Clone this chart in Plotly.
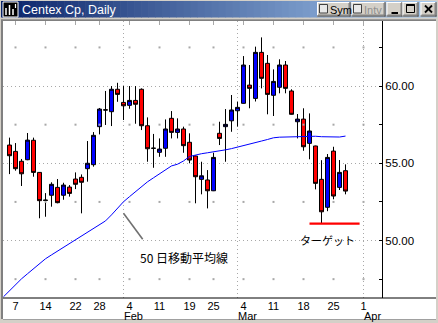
import plotly.graph_objects as go

# ---------------- data ----------------
dates = [
    "2002-01-04",
    "2002-01-07", "2002-01-08", "2002-01-09", "2002-01-10", "2002-01-11",
    "2002-01-14", "2002-01-15", "2002-01-16", "2002-01-17", "2002-01-18",
    "2002-01-22", "2002-01-23", "2002-01-24", "2002-01-25",
    "2002-01-28", "2002-01-29", "2002-01-30", "2002-01-31", "2002-02-01",
    "2002-02-04", "2002-02-05", "2002-02-06", "2002-02-07", "2002-02-08",
    "2002-02-11", "2002-02-12", "2002-02-13", "2002-02-14", "2002-02-15",
    "2002-02-19", "2002-02-20", "2002-02-21", "2002-02-22",
    "2002-02-25", "2002-02-26", "2002-02-27", "2002-02-28", "2002-03-01",
    "2002-03-04", "2002-03-05", "2002-03-06", "2002-03-07", "2002-03-08",
    "2002-03-11", "2002-03-12", "2002-03-13", "2002-03-14", "2002-03-15",
    "2002-03-18", "2002-03-19", "2002-03-20", "2002-03-21", "2002-03-22",
    "2002-03-25", "2002-03-26", "2002-03-27",
]

opens = [56.18, 55.77, 55.13, 55.23, 56.49, 54.41,
         52.62, 52.93, 53.44, 52.93, 53.46,
         53.98, 54.09, 54.65, 54.91,
         57.37, 58.46, 58.34, 59.79, 58.94,
         58.75, 59.07, 59.79, 57.43, 55.98,
         55.71, 55.97, 57.91, 57.00, 57.22,
         56.36, 55.47, 53.96, 53.92,
         53.22, 56.94, 57.37, 57.75, 58.40,
         58.88, 60.06, 59.20, 62.18, 61.47,
         59.40, 59.92, 61.36, 59.68, 57.69,
         57.86, 56.29, 56.12, 53.96, 52.15,
         55.79, 53.44, 54.52]
highs = [56.66, 56.31, 55.28, 56.96, 56.66, 54.43,
         53.07, 53.77, 53.98, 53.74, 53.59,
         54.41, 54.28, 56.44, 57.02,
         58.58, 59.68, 60.00, 60.21, 60.00,
         60.00, 60.00, 59.85, 57.97, 56.90,
         56.61, 57.84, 58.38, 57.91, 57.37,
         56.94, 55.50, 55.10, 54.56,
         55.68, 57.69, 58.51, 59.42, 58.98,
         61.94, 61.36, 62.55, 63.15, 62.01,
         61.08, 61.73, 61.62, 59.79, 58.19,
         58.56, 58.23, 56.14, 55.20, 55.60,
         56.07, 55.21, 54.93]
lows = [54.30, 54.52, 53.53, 55.20, 54.13, 51.44,
        51.54, 52.19, 52.41, 52.64, 52.84,
        53.33, 51.76, 53.81, 54.78,
        56.87, 57.48, 57.41, 58.98, 57.80,
        58.53, 57.56, 57.15, 55.10, 54.71,
        55.42, 55.42, 56.61, 56.61, 55.68,
        55.00, 52.41, 52.99, 52.08,
        53.20, 56.18, 55.10, 57.04, 57.37,
        58.86, 58.56, 59.00, 59.85, 58.17,
        58.06, 59.53, 59.53, 58.15, 56.61,
        55.81, 55.26, 53.31, 51.11, 51.90,
        52.67, 53.27, 52.99]
closes = [55.49, 54.65, 54.32, 56.50, 54.41, 52.58,
          52.60, 53.64, 52.45, 53.59, 53.05,
          53.64, 53.77, 55.00, 56.81,
          58.51, 58.45, 59.79, 59.46, 58.72,
          59.07, 58.82, 57.43, 55.94, 55.97,
          55.92, 57.22, 57.00, 57.22, 56.14,
          55.21, 54.13, 54.19, 53.22,
          55.38, 56.61, 57.52, 58.45, 58.62,
          61.36, 59.85, 62.18, 60.50, 59.46,
          60.30, 61.36, 59.85, 58.17, 57.86,
          56.07, 57.09, 53.70, 51.86, 55.38,
          52.88, 54.41, 53.20]

# 50-day moving average (starts one session before the first visible bar)
ma_dates = ["2002-01-03"] + dates
ma50 = [46.36, 46.75, 47.14, 47.52, 47.85, 48.18, 48.52, 48.82, 49.07, 49.32,
        49.57, 49.81, 50.06, 50.30, 50.54, 50.79, 51.03, 51.27, 51.66, 52.08,
        52.51, 52.84, 53.17, 53.50, 53.80, 54.06, 54.32, 54.58, 54.83, 54.94,
        55.15, 55.44, 55.54, 55.62, 55.68, 55.73, 55.78, 55.87, 55.95, 56.04,
        56.14, 56.25, 56.34, 56.44, 56.54, 56.65, 56.69, 56.70, 56.73, 56.75,
        56.76, 56.78, 56.75, 56.72, 56.70, 56.68, 56.70, 56.76]

future_slots = ["2002-03-28", "2002-03-29", "2002-04-01"]
week_ticks = ["2002-01-07", "2002-01-14", "2002-01-22", "2002-01-28", "2002-02-04",
              "2002-02-11", "2002-02-19", "2002-02-25", "2002-03-04", "2002-03-11",
              "2002-03-18", "2002-03-25", "2002-04-01"]
month_starts = ["2002-02-01", "2002-03-01", "2002-04-01"]
month_labels = ["Feb", "Mar", "Apr"]

y_major = [50, 55, 60]
y_major_text = ["50.00", "55.00", "60.00"]
y_minor = [47.5, 52.5, 57.5, 62.5]

target_price = 51.10
target_from, target_to = "2002-03-19", "2002-03-29"

ma_label = "50 日移動平均線"
target_label = "ターゲット"
title_text = "Centex Cp, Daily"

# ---------------- slot positions (trading-day axis) ----------------
slots = ["2002-01-03"] + dates + future_slots
pos = {d: i - 1 for i, d in enumerate(slots)}
x_c = [pos[d] for d in dates]

# ---------------- geometry helpers ----------------
W, H = 438, 323
L, R, T, B = 3, 382, 21, 298


def px(x):
    return (x - L) / (R - L)


def py(y):
    return (B - y) / (B - T)


shapes = []
annotations = []


def rect(x0, y0, x1, y1, fill, line=None, lw=0):
    shapes.append(dict(type="rect", xref="paper", yref="paper",
                       x0=px(x0), x1=px(x1), y0=py(y0), y1=py(y1),
                       fillcolor=fill, layer="above",
                       line=dict(color=line or fill, width=lw)))


def pline(x0, y0, x1, y1, color, w=1):
    shapes.append(dict(type="line", xref="paper", yref="paper",
                       x0=px(x0), x1=px(x1), y0=py(y0), y1=py(y1),
                       layer="above", line=dict(color=color, width=w)))


def ptext(x, y, s, color="black", size=12, anchor="left", family="Liberation Sans"):
    annotations.append(dict(xref="paper", yref="paper", x=px(x), y=py(y), text=s,
                            showarrow=False, xanchor=anchor, yanchor="middle",
                            borderpad=0,
                            font=dict(color=color, size=size, family=family)))


fig = go.Figure()

fig.add_trace(go.Candlestick(
    x=x_c, open=opens, high=highs, low=lows, close=closes,
    increasing=dict(line=dict(color="black", width=1), fillcolor="#0000ff"),
    decreasing=dict(line=dict(color="black", width=1), fillcolor="#ff0000"),
    whiskerwidth=0, hoverinfo="skip", showlegend=False))

fig.add_trace(go.Scatter(
    x=[pos[d] for d in ma_dates], y=ma50, mode="lines",
    line=dict(color="#0000ff", width=1), hoverinfo="skip", showlegend=False))

fig.add_trace(go.Scatter(
    x=[pos[target_from], pos[target_to] + 0.35], y=[target_price, target_price],
    mode="lines", line=dict(color="#ff0000", width=2.2),
    hoverinfo="skip", showlegend=False))

# sparse dots of the minor grid (at weekly tick positions)
gx, gy = [], []
for lvl in y_minor:
    for d in week_ticks:
        gx.append(pos[d])
        gy.append(lvl)
fig.add_trace(go.Scatter(x=gx, y=gy, mode="markers",
                         marker=dict(symbol="square", size=2, color="#a8a8a8", line=dict(width=0)),
                         hoverinfo="skip", showlegend=False))

# month separators (dotted vertical)
for m in month_starts:
    shapes.append(dict(type="line", xref="x", yref="paper", x0=pos[m], x1=pos[m],
                       y0=0, y1=1, layer="below",
                       line=dict(color="#a8a8a8", width=1, dash="1px,3px")))
# weekly tick marks at the top edge
for d in week_ticks:
    shapes.append(dict(type="line", xref="x", yref="paper", x0=pos[d], x1=pos[d],
                       y0=1, y1=py(T + 4), layer="below",
                       line=dict(color="#a8a8a8", width=1)))
# month labels
for m, lab in zip(month_starts, month_labels):
    annotations.append(dict(xref="x", yref="paper", x=pos[m], y=py(315.5), text=lab,
                            showarrow=False, xanchor="left", yanchor="middle",
                            xshift=-1, borderpad=0,
                            font=dict(size=11, color="black", family="Liberation Sans")))

# callouts
shapes.append(dict(type="line", xref="x", yref="y", x0=19.0, y0=51.76, x1=22.2, y1=50.08,
                   layer="above", line=dict(color="#707070", width=1.6)))
annotations.append(dict(xref="x", yref="y", x=21.4, y=48.93, text=ma_label,
                        showarrow=False, xanchor="left", yanchor="middle",
                        font=dict(size=12, color="black", family="Noto Sans CJK JP")))
annotations.append(dict(xref="x", yref="y", x=53.0, y=50.03, text=target_label,
                        showarrow=False, xanchor="center", yanchor="middle",
                        font=dict(size=11, color="black", family="Noto Sans CJK JP")))

# ---------------- window chrome ----------------
# x-axis baseline extends across the price panel
pline(L, B, 436, B, "black", 1)
# left / bottom / right window borders
rect(0, 17, 1, 323, "#d4d0c8")
rect(1, 19.5, 3, 323, "#808080")
rect(0, 319, 438, 323, "#d4d0c8")
pline(3, 319.5, 436, 319.5, "#a0a0a0", 1)
rect(436, 17, 438, 323, "#d4d0c8")
# frame under title bar
rect(0, 0, 438, 19.5, "#d4d0c8")
rect(1, 19.3, 436, 21, "#808080")
# title gradient
c0, c1 = (10, 36, 106), (166, 202, 240)
n = 62
x_start, x_end = 1, 436
step = (x_end - x_start) / n
for i in range(n):
    t = i / (n - 1)
    col = "rgb(%d,%d,%d)" % tuple(round(a + (b - a) * t) for a, b in zip(c0, c1))
    rect(x_start + i * step, 1, x_start + (i + 1) * step + 0.6, 17.5, col)
# icon
rect(3, 2, 18, 17, "black", "white", 1)
pline(6, 15, 6, 8, "white", 1.5)
pline(9.5, 15, 9.5, 5, "white", 1.5)
pline(13, 15, 13, 9, "white", 1.5)
pline(15.5, 8, 15.5, 4, "white", 1.2)
ptext(20.5, 9.5, title_text, "white", 12.5)


def button(x0, y0, x1, y1):
    rect(x0, y0, x1, y1, "#d4d0c8")
    pline(x0, y0 + 0.5, x1, y0 + 0.5, "white", 1)
    pline(x0 + 0.5, y0, x0 + 0.5, y1, "white", 1)
    pline(x0, y1 - 0.5, x1, y1 - 0.5, "#404040", 1)
    pline(x1 - 0.5, y0, x1 - 0.5, y1, "#404040", 1)
    pline(x0 + 1, y1 - 1.5, x1 - 1, y1 - 1.5, "#808080", 1)
    pline(x1 - 1.5, y0 + 1, x1 - 1.5, y1 - 1, "#808080", 1)


button(317, 2, 350.5, 16.5)
rect(319.5, 4.5, 327.5, 13, "#e8e8e8", "#404040", 1)
ptext(328.5, 9.5, "Sym", "black", 11)
button(351.5, 2, 385.5, 16.5)
rect(353.5, 4.5, 361.5, 13, "#e8e8e8", "#404040", 1)
ptext(363, 9.5, "Intv", "#909090", 11)
button(386.5, 2, 402.5, 16.5)
pline(391.5, 13, 398, 13, "black", 2)
button(402.5, 2, 418.5, 16.5)
rect(406.5, 4.5, 414.5, 12.5, "rgba(0,0,0,0)", "black", 1)
pline(406.5, 5, 414.5, 5, "black", 2)
button(420.5, 2, 436.5, 16.5)
pline(425, 5.5, 432, 12.5, "black", 1.8)
pline(432, 5.5, 425, 12.5, "black", 1.8)

fig.update_layout(
    width=W, height=H,
    margin=dict(l=L, r=W - R, t=T, b=H - B, pad=0),
    paper_bgcolor="white", plot_bgcolor="white",
    showlegend=False, hovermode=False,
    boxgap=1 / 3, boxgroupgap=0,
    shapes=shapes, annotations=annotations,
    font=dict(family="Liberation Sans", size=11, color="black"),
    xaxis=dict(range=[-1 - 0.5 / 6, 62 + 0.5 / 6], tickmode="array",
               tickvals=[pos[d] for d in week_ticks],
               ticktext=[str(int(d[-2:])) for d in week_ticks],
               ticks="", showgrid=False, zeroline=False, showline=False,
               rangeslider=dict(visible=False), fixedrange=True,
               tickfont=dict(size=11, color="black", family="Liberation Sans")),
    yaxis=dict(side="right", range=[46.28, 64.21], tickmode="array",
               tickvals=y_major, ticktext=y_major_text,
               showgrid=True, gridcolor="#a8a8a8", griddash="1px,3px", gridwidth=1,
               ticks="inside", ticklen=3, tickcolor="black",
               minor=dict(tickvals=y_minor, ticks="inside", ticklen=3,
                          tickcolor="black", showgrid=False),
               showline=True, linecolor="black", linewidth=1, zeroline=False,
               fixedrange=True,
               tickfont=dict(size=11.5, color="black", family="Liberation Sans")),
)

fig.write_html("out.html")
